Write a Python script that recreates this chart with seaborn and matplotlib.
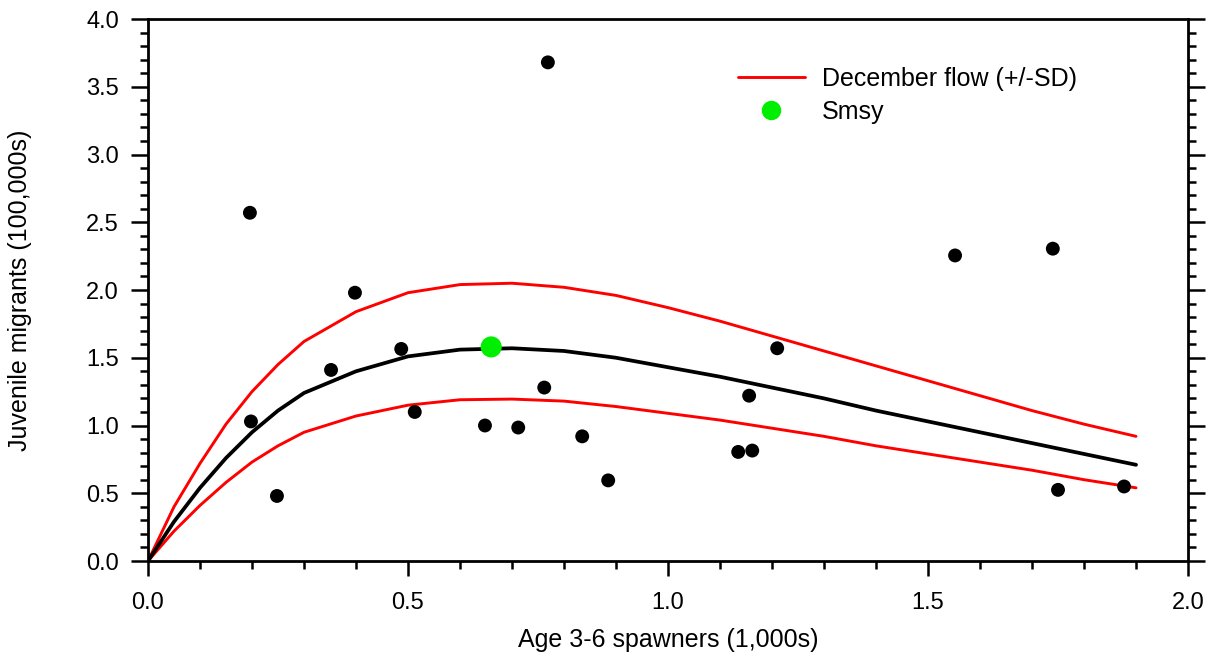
import matplotlib
matplotlib.use("Agg")
import matplotlib.pyplot as plt
from matplotlib.lines import Line2D
from matplotlib.ticker import MultipleLocator
import pandas as pd
import seaborn as sns

# Observed spawner / juvenile pairs
spawners = [0.196, 0.769, 0.198, 0.248, 0.398, 0.352, 0.487, 0.513, 0.648, 0.712,
            0.762, 0.835, 0.885, 1.135, 1.162, 1.156, 1.210, 1.552, 1.740, 1.750, 1.877]
juveniles = [2.57, 3.68, 1.03, 0.48, 1.98, 1.41, 1.565, 1.10, 1.00, 0.985,
             1.28, 0.92, 0.595, 0.805, 0.815, 1.22, 1.57, 2.255, 2.305, 0.525, 0.55]

# Fitted stock-recruit curve and +/- SD December flow curves
curve_x = [0.0, 0.05, 0.1, 0.15, 0.2, 0.25, 0.3, 0.4, 0.5, 0.6, 0.7, 0.8,
           0.9, 1.0, 1.1, 1.2, 1.3, 1.4, 1.5, 1.6, 1.7, 1.8, 1.9]
curve_mid = [0.0, 0.29, 0.54, 0.76, 0.95, 1.11, 1.24, 1.40, 1.51, 1.56, 1.57, 1.55,
             1.50, 1.43, 1.36, 1.28, 1.20, 1.11, 1.03, 0.95, 0.87, 0.79, 0.71]
curve_hi = [0.0, 0.40, 0.72, 1.01, 1.25, 1.45, 1.62, 1.84, 1.98, 2.04, 2.05, 2.02,
            1.96, 1.87, 1.77, 1.66, 1.55, 1.44, 1.33, 1.22, 1.11, 1.01, 0.92]
curve_lo = [0.0, 0.22, 0.41, 0.58, 0.73, 0.85, 0.95, 1.07, 1.15, 1.19, 1.195, 1.18,
            1.14, 1.09, 1.04, 0.98, 0.92, 0.85, 0.79, 0.73, 0.67, 0.60, 0.54]

smsy_x = [0.66]
smsy_y = [1.58]

sns.set_style("white")
plt.rcParams.update({
    "font.family": ["Liberation Sans", "DejaVu Sans"],
    "text.color": "black",
    "axes.labelcolor": "black",
    "xtick.color": "black",
    "ytick.color": "black",
})

obs = pd.DataFrame({"x": spawners, "y": juveniles})
curves = pd.DataFrame({"x": curve_x, "mid": curve_mid, "hi": curve_hi, "lo": curve_lo})

fig = plt.figure(figsize=(12.14, 6.6), dpi=100)
ax = fig.add_axes([0.1219, 0.15, 0.8567, 0.8212])

sns.lineplot(data=curves, x="x", y="hi", color="#ff0000", linewidth=2.1, ax=ax)
sns.lineplot(data=curves, x="x", y="lo", color="#ff0000", linewidth=2.1, ax=ax)
sns.lineplot(data=curves, x="x", y="mid", color="black", linewidth=2.7, ax=ax)
sns.scatterplot(data=obs, x="x", y="y", color="black", s=100, edgecolor="none", ax=ax, zorder=3)
sns.scatterplot(x=smsy_x, y=smsy_y, color="#00ee00", s=230, edgecolor="none", ax=ax, zorder=4)

ax.set_xlim(0, 2.0)
ax.set_ylim(0, 4.0)
ax.xaxis.set_major_locator(MultipleLocator(0.5))
ax.xaxis.set_minor_locator(MultipleLocator(0.1))
ax.yaxis.set_major_locator(MultipleLocator(0.5))
ax.yaxis.set_minor_locator(MultipleLocator(0.1))
ax.xaxis.set_major_formatter(lambda v, p: f"{v:.1f}")
ax.yaxis.set_major_formatter(lambda v, p: f"{v:.1f}")

for s in ax.spines.values():
    s.set_linewidth(2.0)
    s.set_color("black")
ax.tick_params(axis="both", which="both", direction="out", color="black", width=1.8,
               labelsize=17, top=False, bottom=True, left=True, right=True,
               labelright=False)
ax.tick_params(axis="y", which="major", length=12, pad=9)
ax.tick_params(axis="y", which="minor", length=5.5)
ax.tick_params(axis="x", which="major", length=11, pad=11)
ax.tick_params(axis="x", which="minor", length=5.5)

ax.set_xlabel("Age 3-6 spawners (1,000s)", fontsize=18)
ax.set_ylabel("Juvenile migrants (100,000s)", fontsize=18)
ax.xaxis.set_label_coords(0.5, -0.146)
ax.yaxis.set_label_coords(-0.123, 0.5)
ax.xaxis.label.set_va("center")
ax.yaxis.label.set_va("center")

handles = [
    Line2D([], [], color="#ff0000", linewidth=2.1),
    Line2D([], [], color="#00ee00", marker="o", linestyle="none", markersize=14,
           markeredgecolor="none"),
]
ax.legend(handles, ["December flow (+/-SD)", "Smsy"], frameon=False, fontsize=18,
          loc="upper left", bbox_to_anchor=(0.5454, 0.953), handlelength=2.7,
          handletextpad=0.68, labelspacing=0.36)

fig.savefig("out.png", dpi=100)
